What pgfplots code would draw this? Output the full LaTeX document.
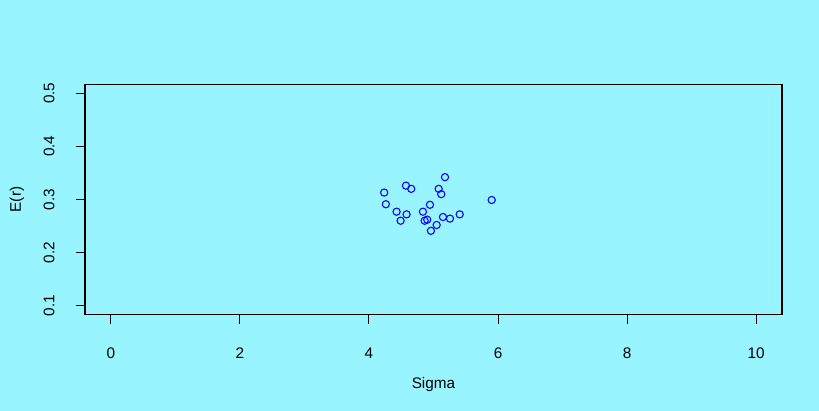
\documentclass[border=0pt]{standalone}
\usepackage{fontspec}
\setmainfont{Liberation Sans}
\usepackage{pgfplots}
\pgfplotsset{compat=1.18}
\definecolor{bgcyan}{HTML}{98F5FF}
\begin{document}
\begin{tikzpicture}
\fill[bgcyan] (-63.75pt,-72.5pt) rectangle (550.5pt,235.7pt);
\useasboundingbox (-63.75pt,-72.5pt) rectangle (550.5pt,235.7pt);
\begin{axis}[
  at={(0pt,0pt)}, anchor=south west,
  scale only axis,
  width=522.75pt, height=172.2pt,
  xmin=-0.4, xmax=10.4, ymin=0.084, ymax=0.516,
  xtick={0,2,4,6,8,10},
  ytick={0.1,0.2,0.3,0.4,0.5},
  yticklabels={0.1,0.2,0.3,0.4,0.5},
  tick align=outside,
  major tick length=7pt,
  xtick pos=bottom, ytick pos=left,
  axis line style={black, line width=0.8pt},
  every tick/.style={black, line width=0.8pt},
  /pgf/number format/assume math mode=true,
  tick label style={font=\fontsize{11.5}{12}\selectfont},
  xticklabel style={anchor=center, yshift=-22.5pt},
  yticklabel style={anchor=center, xshift=-20pt, rotate=90},
  xlabel={Sigma}, ylabel={E(r)},
  every axis x label/.style={at={(axis description cs:0.5,0)}, anchor=center, yshift=-52.5pt, font=\fontsize{11.5}{12}\selectfont},
  every axis y label/.style={at={(axis description cs:0,0.5)}, anchor=center, xshift=-51pt, rotate=90, font=\fontsize{11.5}{12}\selectfont},
  axis background/.style={fill=bgcyan},
]
\addplot[only marks, mark=o, blue, mark size=2.7pt, mark options={line width=0.8pt}] coordinates {
(4.236,0.313) (4.262,0.291) (4.573,0.326) (4.655,0.320) (5.178,0.342)
(5.080,0.320) (5.120,0.310) (5.902,0.299) (4.428,0.277) (4.583,0.272)
(4.490,0.260) (4.945,0.290) (4.836,0.277) (4.863,0.260) (4.903,0.262)
(5.147,0.267) (5.255,0.264) (5.406,0.272) (5.049,0.252) (4.960,0.241)
};
\end{axis}
\end{tikzpicture}
\end{document}
